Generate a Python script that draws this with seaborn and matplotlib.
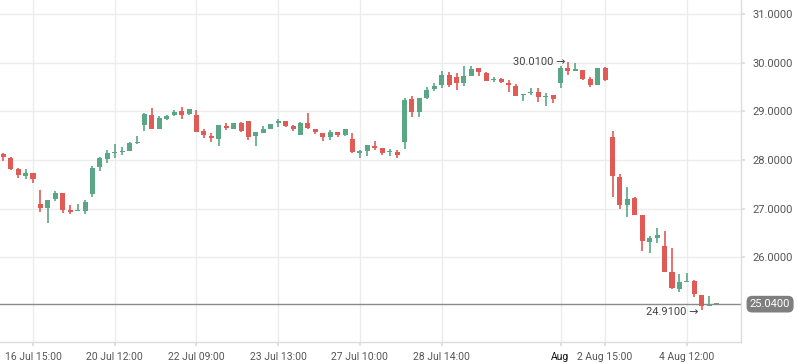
import matplotlib
matplotlib.use("Agg")
import matplotlib.pyplot as plt
import matplotlib.transforms as mtransforms
import seaborn as sns
import numpy as np
import pandas as pd

opens = [28.12, 28.04, 27.81, 27.68, 27.73, 27.10, 27.02, 27.20, 27.32, 26.97,
         26.95, 26.96, 27.31, 27.86, 28.03, 28.14, 28.16, 28.19, 28.35, 28.72,
         28.92, 28.64, 28.84, 28.92, 29.01, 28.94, 28.92, 28.60, 28.49, 28.43,
         28.70, 28.64, 28.76, 28.80, 28.50, 28.56, 28.64, 28.75, 28.80, 28.70,
         28.51, 28.76, 28.64, 28.55, 28.47, 28.57, 28.51, 28.43, 28.14, 28.18,
         28.29, 28.25, 28.16, 28.16, 28.37, 29.25, 28.99, 29.27, 29.46, 29.53,
         29.75, 29.70, 29.59, 29.73, 29.88, 29.79, 29.64, 29.66, 29.57, 29.52,
         29.34, 29.37, 29.39, 29.29, 29.33, 29.59, 29.89, 29.83, 29.85, 29.66,
         29.53, 29.89, 28.48, 27.65, 27.08, 27.22, 26.87, 26.32, 26.40, 26.23,
         25.70, 25.36, 25.50, 25.52, 25.23, 25.00, 25.04]
highs = [28.14, 28.06, 27.84, 27.82, 27.73, 27.38, 27.18, 27.36, 27.32, 27.07,
         27.10, 27.18, 27.88, 28.07, 28.21, 28.33, 28.27, 28.36, 28.49, 28.96,
         29.07, 28.90, 28.93, 29.03, 29.09, 29.05, 29.03, 28.64, 28.55, 28.72,
         28.75, 28.76, 28.77, 28.80, 28.57, 28.70, 28.74, 28.84, 28.80, 28.72,
         28.78, 28.97, 28.64, 28.55, 28.62, 28.57, 28.64, 28.55, 28.21, 28.31,
         28.39, 28.25, 28.23, 28.21, 29.27, 29.31, 29.27, 29.50, 29.58, 29.83,
         29.81, 29.78, 29.92, 29.94, 29.89, 29.81, 29.70, 29.69, 29.64, 29.57,
         29.36, 29.47, 29.47, 29.37, 29.33, 29.93, 30.01, 29.99, 29.85, 29.70,
         29.89, 29.90, 28.60, 27.71, 27.45, 27.24, 26.87, 26.43, 26.60, 26.55,
         26.20, 25.66, 25.68, 25.54, 25.23, 25.21, 25.04]
lows = [27.97, 27.80, 27.64, 27.62, 27.53, 26.93, 26.71, 27.16, 26.92, 26.90,
        26.95, 26.90, 27.23, 27.78, 27.94, 28.04, 28.10, 28.19, 28.33, 28.60,
        28.64, 28.64, 28.83, 28.90, 28.84, 28.93, 28.57, 28.45, 28.36, 28.29,
        28.62, 28.64, 28.57, 28.41, 28.29, 28.56, 28.64, 28.68, 28.68, 28.60,
        28.51, 28.64, 28.53, 28.39, 28.41, 28.47, 28.49, 28.14, 28.04, 28.08,
        28.21, 28.10, 28.08, 28.04, 28.23, 28.88, 28.88, 29.25, 29.42, 29.48,
        29.50, 29.44, 29.52, 29.73, 29.73, 29.62, 29.61, 29.59, 29.40, 29.32,
        29.22, 29.33, 29.20, 29.11, 29.16, 29.48, 29.75, 29.83, 29.65, 29.50,
        29.53, 29.63, 27.23, 27.00, 26.82, 26.88, 26.14, 26.10, 26.30, 25.71,
        25.35, 25.29, 25.50, 25.19, 24.91, 25.00, 25.04]
closes = [28.07, 27.82, 27.70, 27.73, 27.62, 27.02, 27.18, 27.32, 26.98, 26.94,
          26.96, 27.14, 27.83, 28.04, 28.14, 28.16, 28.18, 28.34, 28.37, 28.94,
          28.64, 28.86, 28.90, 28.99, 28.92, 29.05, 28.57, 28.51, 28.46, 28.72,
          28.66, 28.76, 28.60, 28.48, 28.57, 28.64, 28.74, 28.80, 28.70, 28.63,
          28.75, 28.66, 28.57, 28.47, 28.57, 28.51, 28.64, 28.16, 28.18, 28.31,
          28.25, 28.14, 28.18, 28.10, 29.23, 28.99, 29.27, 29.44, 29.52, 29.75,
          29.54, 29.59, 29.72, 29.87, 29.81, 29.63, 29.66, 29.61, 29.55, 29.32,
          29.36, 29.40, 29.29, 29.31, 29.25, 29.89, 29.83, 29.87, 29.66, 29.53,
          29.89, 29.65, 27.68, 27.08, 27.20, 26.88, 26.34, 26.40, 26.45, 25.71,
          25.38, 25.49, 25.52, 25.24, 25.01, 25.01, 25.04]

tick_idx = [4, 15, 26, 37, 48, 59, 75, 81, 92]
tick_labels = ["16 Jul 15:00", "20 Jul 12:00", "22 Jul 09:00", "23 Jul 13:00",
               "27 Jul 10:00", "28 Jul 14:00", "Aug", "2 Aug 15:00", "4 Aug 12:00"]
y_ticks = [26, 27, 28, 29, 30, 31]
last_price = 25.04
max_label = (76, 30.01)
min_label = (94, 24.91)

GREEN = "#5aa786"
RED = "#e05a56"
GREY = "#8c8c8c"

sns.set_theme(style="white")
plt.rcParams['font.family'] = ['Roboto', 'DejaVu Sans']

df = pd.DataFrame({"i": np.arange(len(opens)), "open": opens, "high": highs,
                   "low": lows, "close": closes})
df["color"] = np.where(df.close > df.open, GREEN, np.where(df.close < df.open, RED, GREY))
df["bottom"] = df[["open", "close"]].min(axis=1)
df["height"] = (df.close - df.open).abs().clip(lower=0.025)

fig = plt.figure(figsize=(7.98, 3.63), dpi=100)
ax = fig.add_axes([0, 21 / 363, 741 / 798, 342 / 363])

ax.axhline(last_price, color="#8a8a8a", lw=1, zorder=1)
ax.vlines(df.i, df.low, df.high, colors=df.color, lw=1.2, zorder=2)
ax.bar(df.i, df.height, bottom=df.bottom, width=0.68, color=df.color,
       linewidth=0, zorder=3)

ax.set_xlim(-0.444, 99.29)
ax.set_ylim(24.263, 31.285)

ax.yaxis.tick_right()
ax.set_yticks(y_ticks)
ax.set_yticklabels([f"{v:.4f}" for v in y_ticks])
ax.set_xticks(tick_idx)
ax.set_xticklabels(tick_labels)
ax.grid(True, color="#ececec", lw=1, zorder=0)
ax.set_axisbelow(True)

for s in ["left", "top"]:
    ax.spines[s].set_visible(False)
for s in ["right", "bottom"]:
    ax.spines[s].set_color("#dcdcdc")
    ax.spines[s].set_linewidth(1)

ax.tick_params(axis="y", which="both", right=True, left=False, length=3,
               color="#dcdcdc", labelsize=8, labelcolor="#555555", pad=5)
ax.tick_params(axis="x", which="both", bottom=True, length=3, color="#dcdcdc",
               labelsize=7.5, labelcolor="#555555", pad=4)
for lbl in ax.get_xticklabels():
    if lbl.get_text() == "Aug":
        lbl.set_color("#111111")

ax.set_xlabel("")
ax.set_ylabel("")

trans = mtransforms.blended_transform_factory(ax.transAxes, ax.transData)
ax.text(1.012, last_price, f"{last_price:.4f}", transform=trans, ha="left",
        va="center", fontsize=8, color="white", clip_on=False,
        bbox=dict(boxstyle="round,pad=0.3,rounding_size=0.5", fc="#7f7f7f", ec="none"))

ax.text(max_label[0] - 0.3, max_label[1], f"{max_label[1]:.4f} \u2192", ha="right",
        va="center", fontsize=8, color="#444444", zorder=5)
ax.text(min_label[0] - 0.4, min_label[1] - 0.03, f"{min_label[1]:.4f} \u2192", ha="right",
        va="center", fontsize=8, color="#444444", zorder=5)

fig.savefig("out.png", dpi=100)
